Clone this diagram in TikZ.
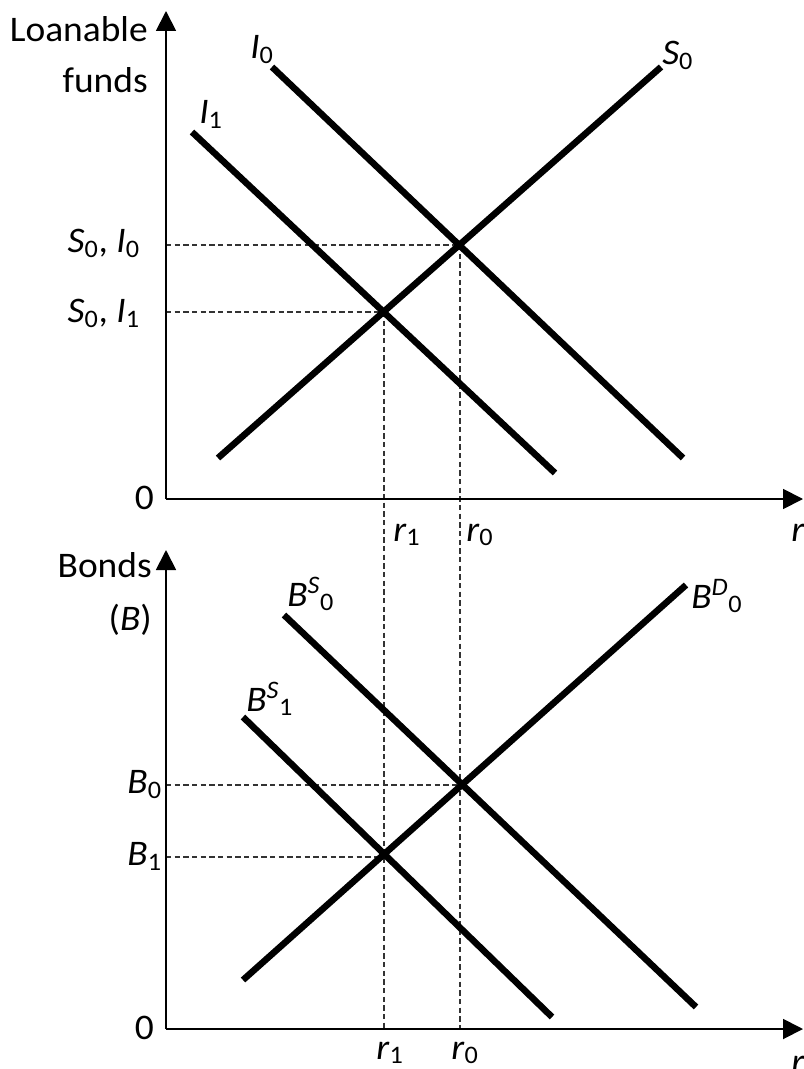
\documentclass[tikz,border=0pt]{standalone}
\usepackage{fontspec}
\setmainfont[FakeStretch=1.04]{Carlito}
\usetikzlibrary{arrows.meta}
\newcommand{\vsub}[2]{\textit{#1}\textsubscript{#2}}
\newcommand{\vsupsub}[3]{\textit{#1}\textsuperscript{\textit{#2}}\textsubscript{#3}}
\begin{document}
\begin{tikzpicture}[x=0.75pt,y=-0.75pt,
  curve/.style={line width=4.9pt},
  axis/.style={line width=1.4pt,-{Triangle[length=15pt,width=15pt]}},
  guide/.style={line width=0.8pt,dash pattern=on 4pt off 2.5pt,black!80},
  lbl/.style={font=\fontsize{27}{32}\selectfont,inner sep=0pt}]
\useasboundingbox (0,0) rectangle (803,1069);

% ---------- top panel ----------
\coordinate (O1) at (166,499);
\coordinate (Y1) at (166,11);
\coordinate (X1) at (803,499);
\coordinate (I0a) at (272,67);
\coordinate (I0b) at (683,458);
\coordinate (I1a) at (192,132);
\coordinate (I1b) at (555,473);
\coordinate (S0a) at (218,458);
\coordinate (S0b) at (661,67);
\coordinate (E0) at (460,245);
\coordinate (E1) at (384,312);

% ---------- bottom panel ----------
\coordinate (O2) at (166,1029);
\coordinate (Y2) at (166,550);
\coordinate (X2) at (803,1029);
\coordinate (BS0a) at (284,615);
\coordinate (BS0b) at (696,1007);
\coordinate (BS1a) at (243,717);
\coordinate (BS1b) at (552,1017);
\coordinate (BD0a) at (243,980);
\coordinate (BD0b) at (686,585);
\coordinate (F0) at (460,785);
\coordinate (F1) at (384,857);

% guides
\draw[guide] (O1 |- E0) -- (E0);
\draw[guide] (O1 |- E1) -- (E1);
\draw[guide] (E0) -- (E0 |- O2);
\draw[guide] (E1) -- (E1 |- O2);
\draw[guide] (O2 |- F0) -- (F0);
\draw[guide] (O2 |- F1) -- (F1);

% axes
\draw[axis] (O1) -- (Y1);
\draw[axis] (O1) -- (X1);
\draw[axis] (O2) -- (Y2);
\draw[axis] (O2) -- (X2);

% curves
\draw[curve] (I0a) -- (I0b);
\draw[curve] (I1a) -- (I1b);
\draw[curve] (S0a) -- (S0b);
\draw[curve] (BS0a) -- (BS0b);
\draw[curve] (BS1a) -- (BS1b);
\draw[curve] (BD0a) -- (BD0b);

% labels top
\node[lbl,anchor=base east] (tLoan) at (148,42) {Loanable};
\node[lbl,anchor=base east] (tFunds) at (148,93) {funds};
\node[lbl,anchor=base west] (tI0) at (250,59) {\vsub{I}{0}};
\node[lbl,anchor=base west] (tI1) at (199,124) {\vsub{I}{1}};
\node[lbl,anchor=base west] (tS0) at (662,65) {\vsub{S}{0}};
\node[lbl,anchor=east] (tSI0) at (140,243) {\vsub{S}{0}, \vsub{I}{0}};
\node[lbl,anchor=east] (tSI1) at (140,313) {\vsub{S}{0}, \vsub{I}{1}};
\node[lbl,anchor=east] (tZero1) at (154,498) {0};
\node[lbl,anchor=base west] (tr1) at (393,541) {\vsub{r}{1}};
\node[lbl,anchor=base west] (tr0) at (466,541) {\vsub{r}{0}};
\node[lbl,anchor=base west] (tr) at (791,541) {\textit{r}};

% labels bottom
\node[lbl,anchor=base east] (tBonds) at (152,577) {Bonds};
\node[lbl,anchor=base east] (tB) at (152,630) {(\textit{B})};
\node[lbl,anchor=base west] (tBS0) at (287,606) {\vsupsub{B}{S}{0}};
\node[lbl,anchor=base west] (tBS1) at (246,711) {\vsupsub{B}{S}{1}};
\node[lbl,anchor=base west] (tBD0) at (691,608) {\vsupsub{B}{D}{0}};
\node[lbl,anchor=east] (tB0) at (162,785) {\vsub{B}{0}};
\node[lbl,anchor=east] (tB1) at (162,856) {\vsub{B}{1}};
\node[lbl,anchor=east] (tZero2) at (154,1028) {0};
\node[lbl,anchor=base] (tbr1) at (390,1059) {\vsub{r}{1}};
\node[lbl,anchor=base] (tbr0) at (465,1059) {\vsub{r}{0}};
\node[lbl,anchor=base west] (tbr) at (791,1073) {\textit{r}};
\end{tikzpicture}
\end{document}
